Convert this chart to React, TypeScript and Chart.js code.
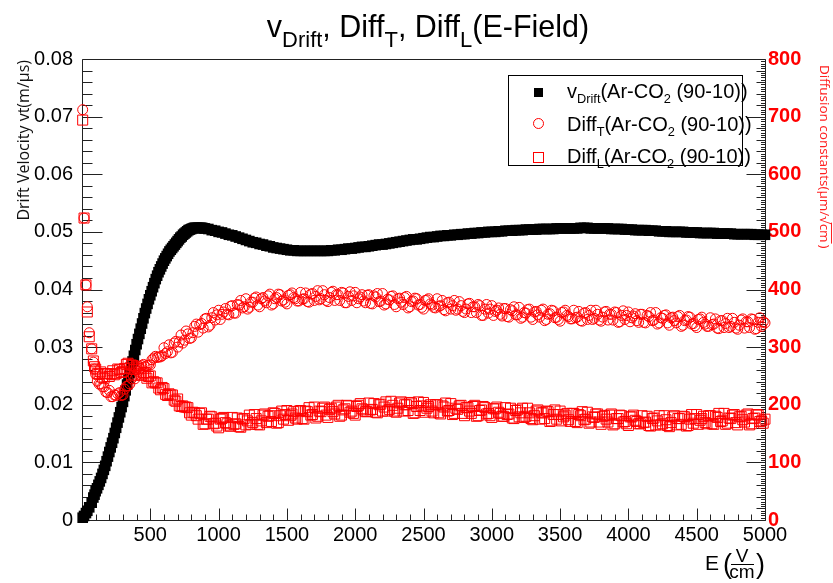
import React, { useEffect, useRef } from 'react';
import { Chart, registerables } from 'chart.js';

Chart.register(...registerables);

// Electric field values (V/cm) for the diffusion series
const E_FIELD = [
  5, 15, 29, 39, 53, 71, 83, 92,
  100, 125, 150, 175, 200, 225, 250, 275, 300, 325,
  350, 375, 400, 425, 450, 475, 500, 525, 550, 575,
  600, 625, 650, 675, 700, 725, 750, 775, 800, 825,
  850, 875, 900, 925, 950, 975, 1000, 1025, 1050, 1075,
  1100, 1125, 1150, 1175, 1200, 1225, 1250, 1275, 1300, 1325,
  1350, 1375, 1400, 1425, 1450, 1475, 1500, 1525, 1550, 1575,
  1600, 1625, 1650, 1675, 1700, 1725, 1750, 1775, 1800, 1825,
  1850, 1875, 1900, 1925, 1950, 1975, 2000, 2025, 2050, 2075,
  2100, 2125, 2150, 2175, 2200, 2225, 2250, 2275, 2300, 2325,
  2350, 2375, 2400, 2425, 2450, 2475, 2500, 2525, 2550, 2575,
  2600, 2625, 2650, 2675, 2700, 2725, 2750, 2775, 2800, 2825,
  2850, 2875, 2900, 2925, 2950, 2975, 3000, 3025, 3050, 3075,
  3100, 3125, 3150, 3175, 3200, 3225, 3250, 3275, 3300, 3325,
  3350, 3375, 3400, 3425, 3450, 3475, 3500, 3525, 3550, 3575,
  3600, 3625, 3650, 3675, 3700, 3725, 3750, 3775, 3800, 3825,
  3850, 3875, 3900, 3925, 3950, 3975, 4000, 4025, 4050, 4075,
  4100, 4125, 4150, 4175, 4200, 4225, 4250, 4275, 4300, 4325,
  4350, 4375, 4400, 4425, 4450, 4475, 4500, 4525, 4550, 4575,
  4600, 4625, 4650, 4675, 4700, 4725, 4750, 4775, 4800, 4825,
  4850, 4875, 4900, 4925, 4950, 4975, 5000,
];

// Intermediate field values (V/cm) for the diffusion series
const E_FIELD_MID = [
  112, 137, 162, 187, 212, 237, 262, 287, 312, 337,
  362, 387, 412, 437, 462, 487, 512, 537, 562, 587,
  612, 637, 662, 687, 712, 737, 762, 787, 812, 837,
  862, 887, 912, 937, 962, 987, 1012, 1037, 1062, 1087,
  1112, 1137, 1162, 1187, 1212, 1237, 1262, 1287, 1312, 1337,
  1362, 1387, 1412, 1437, 1462, 1487, 1512, 1537, 1562, 1587,
  1612, 1637, 1662, 1687, 1712, 1737, 1762, 1787, 1812, 1837,
  1862, 1887, 1912, 1937, 1962, 1987, 2012, 2037, 2062, 2087,
  2112, 2137, 2162, 2187, 2212, 2237, 2262, 2287, 2312, 2337,
  2362, 2387, 2412, 2437, 2462, 2487, 2512, 2537, 2562, 2587,
  2612, 2637, 2662, 2687, 2712, 2737, 2762, 2787, 2812, 2837,
  2862, 2887, 2912, 2937, 2962, 2987, 3012, 3037, 3062, 3087,
  3112, 3137, 3162, 3187, 3212, 3237, 3262, 3287, 3312, 3337,
  3362, 3387, 3412, 3437, 3462, 3487, 3512, 3537, 3562, 3587,
  3612, 3637, 3662, 3687, 3712, 3737, 3762, 3787, 3812, 3837,
  3862, 3887, 3912, 3937, 3962, 3987, 4012, 4037, 4062, 4087,
  4112, 4137, 4162, 4187, 4212, 4237, 4262, 4287, 4312, 4337,
  4362, 4387, 4412, 4437, 4462, 4487, 4512, 4537, 4562, 4587,
  4612, 4637, 4662, 4687, 4712, 4737, 4762, 4787, 4812, 4837,
  4862, 4887, 4912, 4937, 4962, 4987,
];

// Electric field values (V/cm) for the drift velocity: finer in the steep rise
const E_DRIFT_LOW = [
  5, 15, 29, 39, 53, 71, 83, 92,
  100, 110, 120, 130, 140, 150, 160, 170, 180, 190,
  200, 210, 220, 230, 240, 250, 260, 270, 280, 290,
  300, 310, 320, 330, 340, 350, 360, 370, 380, 390,
  400, 410, 420, 430, 440, 450, 460, 470, 480, 490,
  500, 510, 520, 530, 540, 550, 560, 570, 580, 590,
  600, 610, 620, 630, 640, 650, 660, 670, 680, 690,
  700, 710, 720, 730, 740, 750, 760, 770, 780, 790,
  800, 810, 820, 830, 840, 850, 860, 870, 880, 890,
  900,
];
const E_DRIFT = [...E_DRIFT_LOW, ...E_FIELD.filter((e) => e > 900)];

// Drift velocity (m/µs), left axis
const V_DRIFT = [
  0.0004, 0.0007, 0.0012, 0.0016, 0.0022, 0.0030, 0.0039, 0.0044,
  0.0050, 0.0055, 0.0061, 0.0067, 0.0073, 0.0080, 0.0087, 0.0094, 0.0102, 0.0110,
  0.0118, 0.0126, 0.0134, 0.0142, 0.0151, 0.0160, 0.0169, 0.0178, 0.0187, 0.0196,
  0.0205, 0.0215, 0.0225, 0.0235, 0.0245, 0.0255, 0.0265, 0.0275, 0.0285, 0.0295,
  0.0305, 0.0314, 0.0323, 0.0332, 0.0341, 0.0350, 0.0359, 0.0367, 0.0375, 0.0383,
  0.0390, 0.0397, 0.0404, 0.0411, 0.0418, 0.0424, 0.0430, 0.0435, 0.0440, 0.0445,
  0.0450, 0.0454, 0.0458, 0.0462, 0.0466, 0.0469, 0.0472, 0.0475, 0.0478, 0.0481,
  0.0484, 0.0487, 0.0490, 0.0492, 0.0495, 0.0497, 0.0499, 0.0501, 0.0503, 0.0504,
  0.0505, 0.0506, 0.0507, 0.0507, 0.0507, 0.0507, 0.0507, 0.0507, 0.0507, 0.0506,
  0.0506,
  0.0505, 0.0503, 0.0502, 0.0500, 0.0499, 0.0497, 0.0495,
  0.0494, 0.0492, 0.0490, 0.0488, 0.0486, 0.0484, 0.0482, 0.0481, 0.0479, 0.0478,
  0.0476, 0.0475, 0.0473, 0.0472, 0.0471, 0.0470, 0.0469, 0.0468, 0.0468, 0.0467,
  0.0467, 0.0467, 0.0467, 0.0467, 0.0467, 0.0467, 0.0467, 0.0467, 0.0467, 0.0468,
  0.0468, 0.0469, 0.0469, 0.0470, 0.0471, 0.0471, 0.0472, 0.0473, 0.0474, 0.0474,
  0.0475, 0.0476, 0.0477, 0.0478, 0.0478, 0.0479, 0.0480, 0.0481, 0.0482, 0.0483,
  0.0484, 0.0485, 0.0486, 0.0487, 0.0487, 0.0488, 0.0489, 0.0490, 0.0491, 0.0491,
  0.0492, 0.0493, 0.0493, 0.0494, 0.0494, 0.0495, 0.0495, 0.0496, 0.0496, 0.0497,
  0.0497, 0.0498, 0.0498, 0.0499, 0.0499, 0.0500, 0.0500, 0.0500, 0.0501, 0.0501,
  0.0502, 0.0502, 0.0502, 0.0503, 0.0503, 0.0503, 0.0504, 0.0504, 0.0504, 0.0504,
  0.0505, 0.0505, 0.0505, 0.0505, 0.0505, 0.0506, 0.0506, 0.0506, 0.0506, 0.0506,
  0.0506, 0.0506, 0.0507, 0.0507, 0.0507, 0.0506, 0.0506, 0.0506, 0.0506, 0.0506,
  0.0506, 0.0505, 0.0505, 0.0505, 0.0505, 0.0504, 0.0504, 0.0504, 0.0503, 0.0503,
  0.0503, 0.0503, 0.0502, 0.0502, 0.0502, 0.0501, 0.0501, 0.0501, 0.0500, 0.0500,
  0.0500, 0.0500, 0.0500, 0.0499, 0.0499, 0.0499, 0.0499, 0.0498, 0.0498, 0.0498,
  0.0498, 0.0498, 0.0497, 0.0497, 0.0497, 0.0497, 0.0497, 0.0496, 0.0496, 0.0496,
  0.0496, 0.0496, 0.0496, 0.0495, 0.0495, 0.0495, 0.0495,
];

// Transverse diffusion (µm/√cm), right axis
const DIFF_T = [
  712, 524, 408, 370, 325, 297, 274, 262,
  253, 236, 231, 222, 225, 214, 216, 221, 217, 232,
  236, 250, 251, 263, 270, 268, 269, 281, 282, 283,
  299, 292, 290, 307, 300, 321, 312, 323, 316, 336,
  326, 341, 349, 335, 351, 347, 364, 357, 367, 356,
  372, 359, 373, 368, 384, 369, 378, 387, 370, 386,
  377, 392, 375, 386, 391, 382, 375, 391, 386, 380,
  395, 384, 379, 392, 381, 398, 384, 391, 379, 395,
  381, 391, 395, 377, 388, 381, 395, 384, 391, 377,
  391, 375, 387, 379, 393, 375, 382, 389, 370, 385,
  374, 388, 370, 380, 384, 374, 366, 382, 375, 369,
  384, 372, 365, 377, 366, 381, 366, 372, 360, 375,
  360, 370, 374, 355, 366, 359, 372, 362, 368, 354,
  367, 352, 363, 356, 369, 352, 359, 366, 348, 362,
  352, 366, 348, 358, 363, 352, 345, 361, 355, 349,
  364, 352, 346, 359, 348, 364, 350, 357, 345, 361,
  347, 357, 361, 343, 355, 348, 361, 351, 358, 343,
  357, 342, 353, 346, 360, 342, 350, 356, 338, 352,
  342, 355, 338, 347, 352, 341, 334, 349, 343, 336,
  351, 340, 333, 346, 334, 350, 336, 343, 331, 347,
  333, 344, 349, 331, 343, 336, 342,
];

const DIFF_T_MID = [
  241, 236, 231, 221, 214, 217, 219, 216, 227, 233,
  245, 245, 258, 268, 266, 269, 278, 284, 283, 285,
  289, 304, 291, 310, 309, 307, 328, 315, 325, 340,
  339, 333, 350, 338, 360, 356, 348, 361, 357, 371,
  359, 374, 381, 370, 366, 378, 385, 373, 384, 380,
  389, 373, 384, 392, 380, 378, 390, 394, 384, 380,
  383, 394, 378, 393, 388, 382, 398, 381, 386, 397,
  391, 381, 394, 377, 396, 389, 377, 387, 380, 390,
  376, 389, 393, 380, 373, 383, 388, 374, 384, 378,
  386, 368, 379, 385, 373, 369, 381, 384, 373, 368,
  371, 381, 363, 378, 372, 364, 379, 362, 366, 376,
  370, 360, 372, 355, 374, 366, 355, 364, 357, 367,
  353, 365, 370, 356, 350, 360, 365, 352, 361, 356,
  364, 346, 357, 364, 351, 348, 360, 364, 353, 349,
  351, 362, 345, 360, 355, 348, 364, 347, 352, 362,
  357, 347, 360, 344, 363, 355, 344, 354, 346, 357,
  343, 355, 360, 347, 340, 351, 355, 342, 351, 346,
  353, 336, 346, 353, 340, 337, 348, 352, 340, 336,
  339, 349, 332, 346, 341, 334, 350, 333, 338, 349,
  344, 334, 348, 332, 351, 344,
];

// Longitudinal diffusion (µm/√cm), right axis
const DIFF_L = [
  694, 524, 408, 361, 318, 297, 276, 266,
  262, 253, 248, 254, 249, 259, 254, 261, 258, 270,
  264, 268, 266, 253, 255, 246, 250, 240, 238, 226,
  228, 216, 217, 208, 210, 197, 196, 195, 182, 186,
  175, 186, 167, 175, 179, 168, 160, 176, 169, 163,
  178, 167, 162, 175, 165, 182, 169, 176, 165, 182,
  169, 181, 186, 168, 181, 175, 190, 181, 188, 175,
  190, 175, 188, 182, 196, 180, 188, 196, 178, 194,
  184, 199, 182, 193, 198, 189, 182, 199, 193, 188,
  203, 192, 187, 200, 189, 205, 192, 199, 187, 203,
  189, 200, 204, 185, 197, 190, 204, 194, 200, 186,
  200, 184, 196, 189, 202, 185, 192, 199, 181, 195,
  185, 199, 181, 191, 195, 185, 178, 193, 187, 180,
  195, 184, 177, 190, 179, 194, 180, 186, 174, 189,
  175, 186, 189, 171, 183, 175, 189, 179, 185, 171,
  185, 169, 181, 174, 187, 170, 178, 184, 166, 181,
  170, 184, 167, 176, 181, 171, 164, 179, 173, 167,
  181, 170, 164, 176, 165, 181, 167, 174, 162, 179,
  165, 176, 180, 163, 175, 168, 183, 173, 180, 167,
  181, 166, 178, 171, 185, 168, 176, 183, 165, 180,
  170, 184, 167, 177, 182, 172, 175,
];

const DIFF_L_MID = [
  254, 257, 246, 254, 253, 252, 262, 256, 263, 272,
  269, 261, 264, 251, 256, 249, 238, 238, 229, 230,
  218, 219, 217, 206, 198, 198, 196, 186, 187, 181,
  185, 166, 175, 180, 167, 163, 175, 178, 167, 163,
  166, 177, 161, 176, 172, 166, 183, 166, 172, 184,
  180, 171, 185, 169, 189, 183, 173, 184, 177, 189,
  176, 189, 195, 183, 177, 189, 194, 182, 192, 188,
  196, 180, 191, 199, 187, 185, 197, 202, 191, 188,
  191, 202, 186, 201, 196, 189, 206, 189, 194, 205,
  200, 190, 203, 186, 205, 198, 187, 197, 189, 200,
  186, 198, 203, 190, 183, 194, 198, 185, 195, 189,
  197, 180, 190, 197, 184, 181, 193, 196, 185, 180,
  183, 194, 176, 191, 186, 178, 194, 176, 181, 191,
  186, 176, 188, 172, 191, 183, 172, 182, 174, 185,
  171, 183, 188, 175, 168, 179, 184, 170, 180, 175,
  182, 165, 176, 182, 170, 167, 179, 182, 171, 167,
  169, 180, 163, 177, 172, 165, 181, 164, 169, 181,
  176, 166, 179, 164, 183, 176, 166, 176, 169, 181,
  167, 180, 185, 172, 166, 177, 182, 169, 179, 174,
  182, 165, 176, 183, 171, 168,
];

const LEGEND_GAS = 'Ar-CO';
const LEGEND_MIX = ' (90-10))';

const SANS = '"Liberation Sans", Arial, Helvetica, sans-serif';
const OPEN = '"Open Sans", "Noto Sans", sans-serif';

type Seg = { t: string; sub?: boolean };

function drawRich(
  ctx: CanvasRenderingContext2D,
  segs: Seg[],
  x: number,
  y: number,
  size: number,
  subRatio: number,
  subOffset: number,
  align: 'left' | 'center' | 'right',
  color: string
) {
  const f = (s: number) => `${s}px ${SANS}`;
  let total = 0;
  const widths = segs.map((s) => {
    ctx.font = f(s.sub ? size * subRatio : size);
    const w = ctx.measureText(s.t).width;
    total += w;
    return w;
  });
  let cx = align === 'center' ? x - total / 2 : align === 'right' ? x - total : x;
  ctx.fillStyle = color;
  ctx.textAlign = 'left';
  ctx.textBaseline = 'alphabetic';
  segs.forEach((s, i) => {
    ctx.font = f(s.sub ? size * subRatio : size);
    ctx.fillText(s.t, cx, y + (s.sub ? size * subOffset : 0));
    cx += widths[i];
  });
}

const rootPlugin = {
  id: 'rootFrame',
  beforeDatasetsDraw(chart: any) {
    const { ctx, chartArea } = chart;
    const { left, right, top, bottom } = chartArea;
    const xs = chart.scales.x;
    const ys = chart.scales.y;
    const y1 = chart.scales.y1;
    const L = Math.round(left) + 0.5;
    const R = Math.round(right) + 0.5;
    const T = Math.round(top) + 0.5;
    const B = Math.round(bottom) + 0.5;
    ctx.save();
    ctx.strokeStyle = '#222';
    ctx.lineWidth = 1;
    ctx.beginPath();
    ctx.moveTo(L, T);
    ctx.lineTo(R, T);
    ctx.lineTo(R, B);
    ctx.lineTo(L, B);
    ctx.closePath();
    ctx.stroke();
    ctx.beginPath();
    for (let i = 0; i <= 50; i++) {
      const px = Math.round(xs.getPixelForValue(i * 100)) + 0.5;
      const len = i % 5 === 0 ? 12 : 6;
      ctx.moveTo(px, B);
      ctx.lineTo(px, B - len);
    }
    for (let i = 0; i <= 40; i++) {
      const py = Math.round(ys.getPixelForValue(i * 0.002)) + 0.5;
      const len = i % 5 === 0 ? 20 : 10;
      ctx.moveTo(L, py);
      ctx.lineTo(L + len, py);
    }
    for (let i = 0; i <= 200; i++) {
      const py = Math.round(y1.getPixelForValue(i * 4)) + 0.5;
      const len = i % 25 === 0 ? 19 : i % 5 === 0 ? 9 : 4.5;
      ctx.moveTo(R, py);
      ctx.lineTo(R - len, py);
    }
    ctx.stroke();
    ctx.restore();
  },
  afterDraw(chart: any) {
    const { ctx } = chart;
    ctx.save();

    // Title
    drawRich(
      ctx,
      [
        { t: 'v' },
        { t: 'Drift', sub: true },
        { t: ', Diff' },
        { t: 'T', sub: true },
        { t: ', Diff' },
        { t: 'L', sub: true },
        { t: '(E-Field)' },
      ],
      428,
      37,
      30.5,
      0.72,
      0.33,
      'center',
      '#000'
    );

    // Legend box
    ctx.fillStyle = '#fff';
    ctx.fillRect(508.5, 75.5, 234, 90);
    ctx.strokeStyle = '#000';
    ctx.lineWidth = 1;
    ctx.strokeRect(508.5, 75.5, 234, 90);

    // Legend markers
    ctx.fillStyle = '#000';
    ctx.fillRect(534, 88, 9, 9);
    ctx.strokeStyle = '#ff0000';
    ctx.beginPath();
    ctx.arc(538.5, 123.5, 5, 0, Math.PI * 2);
    ctx.stroke();
    ctx.strokeRect(533.5, 152.5, 10, 10);

    // Legend texts
    const lx = 567;
    drawRich(ctx, [{ t: 'v' }, { t: 'Drift', sub: true }, { t: '(' + LEGEND_GAS }, { t: '2', sub: true }, { t: LEGEND_MIX }], lx, 98, 20, 0.64, 0.27, 'left', '#000');
    drawRich(ctx, [{ t: 'Diff' }, { t: 'T', sub: true }, { t: '(' + LEGEND_GAS }, { t: '2', sub: true }, { t: LEGEND_MIX }], lx, 131, 20, 0.64, 0.27, 'left', '#000');
    drawRich(ctx, [{ t: 'Diff' }, { t: 'L', sub: true }, { t: '(' + LEGEND_GAS }, { t: '2', sub: true }, { t: LEGEND_MIX }], lx, 163, 20, 0.64, 0.27, 'left', '#000');

    // X axis title: E (V/cm)
    ctx.fillStyle = '#000';
    ctx.textBaseline = 'alphabetic';
    ctx.textAlign = 'left';
    ctx.font = `21px ${SANS}`;
    ctx.fillText('E', 705, 570);
    ctx.font = `27px ${SANS}`;
    ctx.fillText('(', 723, 573);
    ctx.fillText(')', 756, 573);
    ctx.font = `19px ${SANS}`;
    ctx.textAlign = 'center';
    ctx.fillText('V', 742, 562);
    ctx.fillText('cm', 742, 578);
    ctx.beginPath();
    ctx.strokeStyle = '#000';
    ctx.moveTo(731, 564.5);
    ctx.lineTo(754, 564.5);
    ctx.stroke();

    // Left axis title
    ctx.save();
    ctx.translate(29, 60);
    ctx.rotate(-Math.PI / 2);
    ctx.font = `16px ${OPEN}`;
    ctx.fillStyle = '#111';
    ctx.textAlign = 'right';
    ctx.textBaseline = 'alphabetic';
    ctx.fillText('Drift Velocity vt(m/\u03bcs)', 0, 0);
    ctx.restore();

    // Right axis title
    ctx.save();
    ctx.translate(820, 65);
    ctx.rotate(Math.PI / 2);
    ctx.font = `13.5px ${OPEN}`;
    ctx.fillStyle = '#ff2020';
    ctx.strokeStyle = '#ff2020';
    ctx.textAlign = 'left';
    ctx.textBaseline = 'alphabetic';
    let cx = 0;
    const p1 = 'Diffusion constants(\u03bcm/';
    ctx.fillText(p1, cx, 0);
    cx += ctx.measureText(p1).width;
    ctx.fillText('\u221a', cx, 0);
    cx += ctx.measureText('\u221a').width;
    const cmW = ctx.measureText('cm').width;
    ctx.fillText('cm', cx, 0);
    ctx.beginPath();
    ctx.lineWidth = 1;
    ctx.moveTo(cx - 1, -11.5);
    ctx.lineTo(cx + cmW + 1, -11.5);
    ctx.stroke();
    cx += cmW + 2;
    ctx.fillText(')', cx, 0);
    ctx.restore();

    ctx.restore();
  },
};

export default function App() {
  const ref = useRef<HTMLCanvasElement | null>(null);

  useEffect(() => {
    document.body.style.margin = '0';
    const canvas = ref.current;
    if (!canvas) return;
    const toPts = (xs: number[], ys: number[]) => xs.map((x, i) => ({ x, y: ys[i] }));
    const chart = new Chart(canvas, {
      type: 'scatter',
      data: {
        datasets: [
          {
            label: 'Diff_L',
            data: toPts(E_FIELD, DIFF_L).concat(toPts(E_FIELD_MID, DIFF_L_MID)),
            yAxisID: 'y1',
            pointStyle: 'rect',
            pointRadius: 7.07,
            backgroundColor: 'rgba(0,0,0,0)',
            borderColor: '#ff0000',
            borderWidth: 1,
            order: 0,
          },
          {
            label: 'Diff_T',
            data: toPts(E_FIELD, DIFF_T).concat(toPts(E_FIELD_MID, DIFF_T_MID)),
            yAxisID: 'y1',
            pointStyle: 'circle',
            pointRadius: 5,
            backgroundColor: 'rgba(0,0,0,0)',
            borderColor: '#ff0000',
            borderWidth: 1,
            order: 1,
          },
          {
            label: 'v_Drift',
            data: toPts(E_DRIFT, V_DRIFT),
            yAxisID: 'y',
            pointStyle: 'rect',
            pointRadius: 7.5,
            backgroundColor: '#000',
            borderColor: '#000',
            borderWidth: 0,
            order: 2,
          },
        ],
      },
      options: {
        responsive: false,
        animation: false,
        devicePixelRatio: 1,
        events: [],
        clip: false,
        layout: { padding: { top: 59, left: 0, right: 0, bottom: 0 } },
        plugins: {
          legend: { display: false },
          title: { display: false },
          tooltip: { enabled: false },
        },
        scales: {
          x: {
            type: 'linear',
            position: 'bottom',
            min: 0,
            max: 5000,
            grid: { display: false, drawTicks: false },
            border: { display: false },
            ticks: {
              stepSize: 500,
              autoSkip: false,
              maxRotation: 0,
              padding: 3,
              color: '#000',
              font: { family: SANS, size: 20 },
              callback: (v: any) => (Number(v) === 0 ? '' : String(v)),
            },
            afterFit: (s: any) => {
              s.height = 63;
            },
          },
          y: {
            type: 'linear',
            position: 'left',
            min: 0,
            max: 0.08,
            grid: { display: false, drawTicks: false },
            border: { display: false },
            ticks: {
              stepSize: 0.01,
              autoSkip: false,
              padding: 9,
              color: '#000',
              font: { family: SANS, size: 20 },
              callback: (v: any) => (Math.abs(Number(v)) < 1e-9 ? '0' : Number(v).toFixed(2)),
            },
            afterFit: (s: any) => {
              s.width = 82;
            },
          },
          y1: {
            type: 'linear',
            position: 'right',
            min: 0,
            max: 800,
            grid: { display: false, drawTicks: false },
            border: { display: false },
            ticks: {
              stepSize: 100,
              autoSkip: false,
              padding: 3,
              color: '#ff0000',
              font: { family: SANS, size: 20, weight: 'bold' },
            },
            afterFit: (s: any) => {
              s.width = 68;
            },
          },
        },
      } as any,
      plugins: [rootPlugin],
    });
    return () => chart.destroy();
  }, []);

  return (
    <div style={{ width: 833, height: 583, background: '#fff' }}>
      <canvas ref={ref} width={833} height={583} style={{ display: 'block' }} />
    </div>
  );
}
